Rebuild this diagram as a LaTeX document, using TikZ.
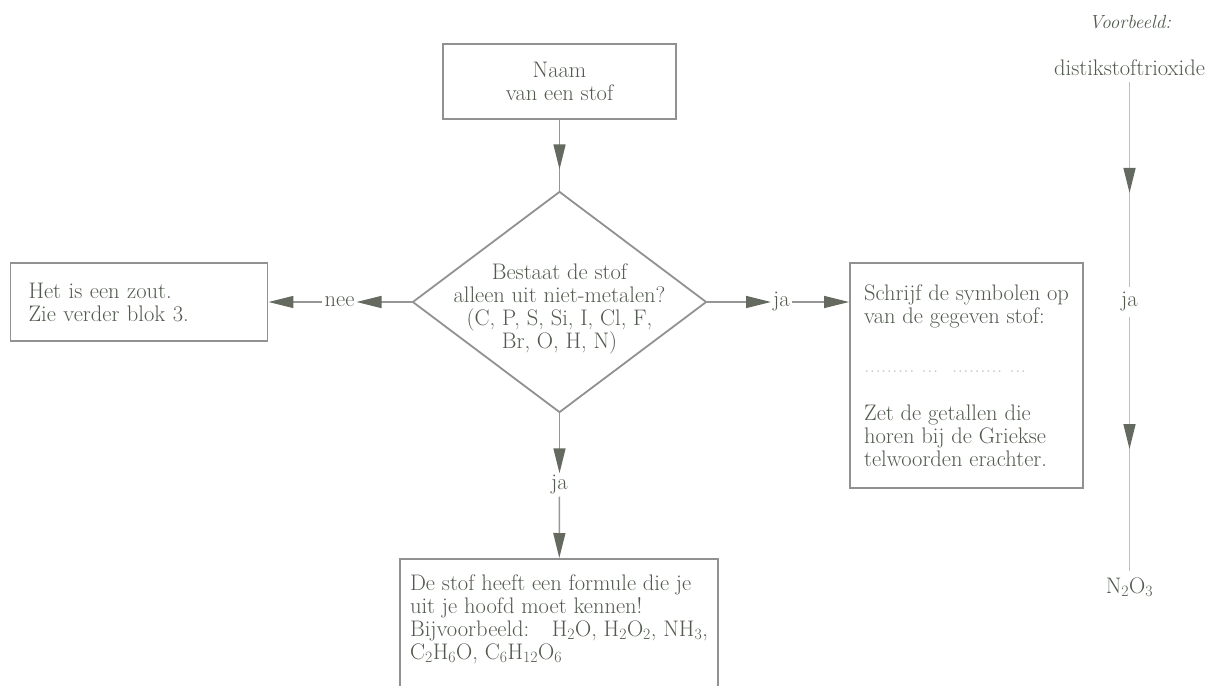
\documentclass[tikz,border=0pt]{standalone}
\usetikzlibrary{shapes.geometric,arrows.meta,decorations.markings}

\definecolor{tekstgrijs}{RGB}{82,90,78}
\definecolor{randgrijs}{RGB}{145,145,145}
\definecolor{lijngrijs}{RGB}{150,150,150}
\definecolor{lichtgrijs}{RGB}{190,190,190}
\definecolor{pijlgrijs}{RGB}{100,106,96}
\definecolor{stipgrijs}{RGB}{200,200,200}

\tikzset{pijlpunt/.tip={Triangle[length=25pt,width=12pt,color=pijlgrijs]}}
\tikzset{midpijl/.style={postaction={decorate},decoration={markings,mark=at position #1 with {\arrow{pijlpunt}}}}}

\tikzstyle{every node}=[font=\fontsize{22.5}{23}\selectfont, text=tekstgrijs]
\tikzstyle{blok}=[rectangle, draw=randgrijs, line width=1.8pt, inner xsep=18pt]
\tikzstyle{ruit}=[diamond, draw=randgrijs, line width=1.8pt, minimum width=294pt, minimum height=221pt, inner sep=0pt]
\tikzstyle{etiket}=[inner sep=2pt]
\tikzstyle{lijn}=[draw=lijngrijs, line width=1.5pt]
\tikzstyle{pijl}=[lijn, -{pijlpunt}]

\begin{document}
\begin{tikzpicture}[x=1pt,y=1pt]
\useasboundingbox (0,0) rectangle (1212,-685);
\clip (0,0) rectangle (1212,-685);

\node [blok, minimum width=233pt, minimum height=75pt, align=center] (naam) at (559.5,-81.5) {Naam\\van een stof};

\node [ruit, below of=naam, node distance=220.5pt] (vraag) {};
\node [align=center, below of=vraag, node distance=7pt] (vraagtekst) {Bestaat de stof\\alleen uit niet-metalen?\\(C, P, S, Si, I, Cl, F,\\Br, O, H, N)};

\node [etiket, left of=vraag, node distance=220pt] (nee) {nee};
\node [blok, left of=nee, node distance=200.5pt, minimum width=257pt, minimum height=78pt, text width=221pt, align=left] (zout) {Het is een zout.\\Zie verder blok 3.};

\node [etiket, right of=vraag, node distance=222pt] (jarechts) {ja};
\node [blok, minimum width=233pt, minimum height=225pt, inner xsep=14pt, align=left] (schrijf) at (966.5,-375.5) {Schrijf de symbolen op\\van de gegeven stof:\\[26pt]\textcolor{stipgrijs}{.........\ ...\ \ .........\ ...}\\[25pt]Zet de getallen die\\horen bij de Griekse\\telwoorden erachter.};

\node [etiket, below of=vraag, node distance=183pt] (jaonder) {ja};
\node [blok, anchor=north, minimum width=318pt, inner xsep=9pt, inner ysep=16pt, align=left] (formule) at (559,-558) {De stof heeft een formule die je\\uit je hoofd moet kennen!\\Bijvoorbeeld:\quad H\textsubscript{2}O, H\textsubscript{2}O\textsubscript{2}, NH\textsubscript{3},\\C\textsubscript{2}H\textsubscript{6}O, C\textsubscript{6}H\textsubscript{12}O\textsubscript{6}\\[40pt]\mbox{}};

\node [inner sep=3pt, font=\fontsize{19}{20}\selectfont\itshape] (voorbeeld) at (1130,-22) {Voorbeeld:};
\node [inner sep=6pt] (distik) at (1129.5,-68) {distikstoftrioxide};
\node [inner sep=5pt] (javoorbeeld) at (1129.5,-302) {ja};
\node [inner sep=6pt] (nformule) at (1129.5,-587) {N\textsubscript{2}O\textsubscript{3}};

\draw [lijn, midpijl=0.7] (naam) -- (vraag);
\path [pijl] (vraag) edge (nee) (nee) edge (zout)
			(vraag) edge (jarechts) (jarechts) edge (jarechts -| schrijf.west)
			(vraag) edge (jaonder) (jaonder) edge (formule);

\draw [lijn, draw=lichtgrijs, midpijl=0.54] (distik) -- (javoorbeeld);
\draw [lijn, draw=lichtgrijs, midpijl=0.52] (javoorbeeld) -- (nformule);
\end{tikzpicture}
\end{document}
